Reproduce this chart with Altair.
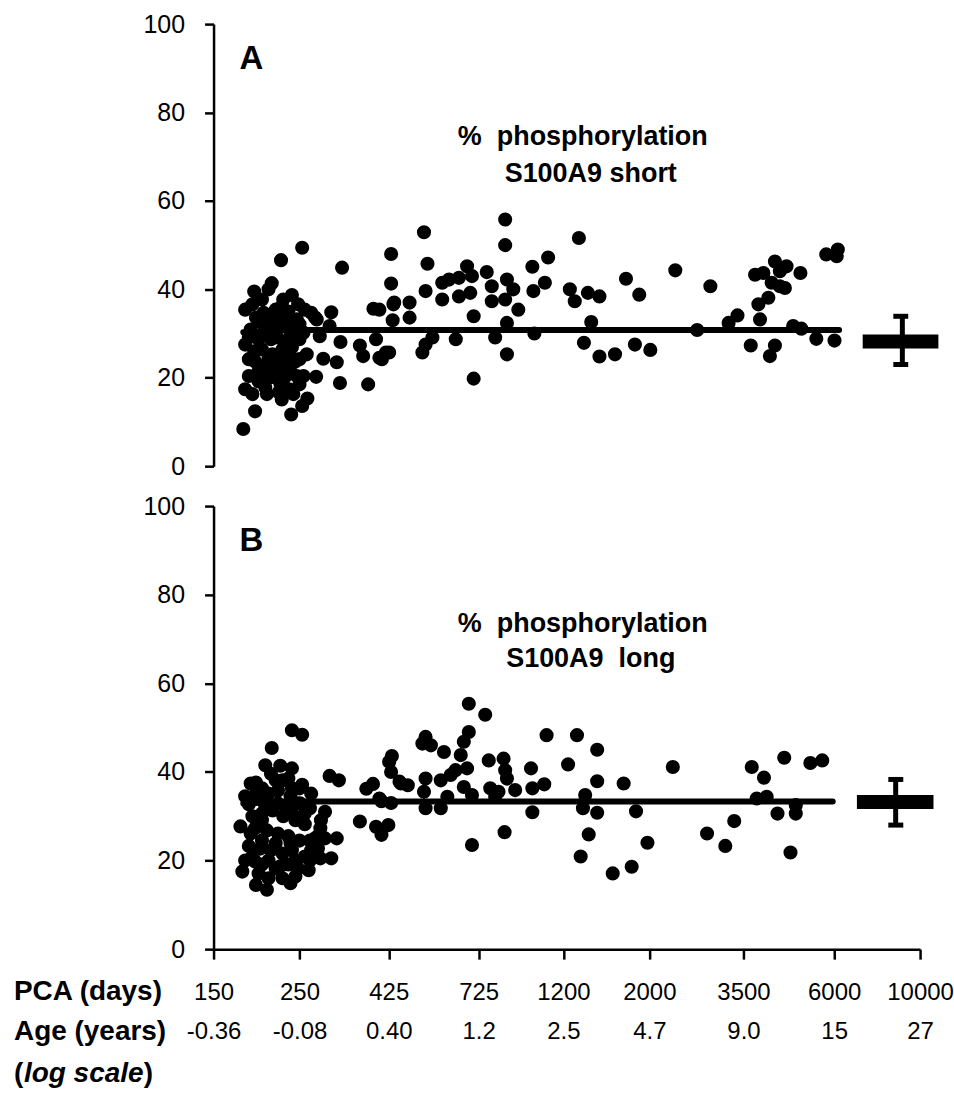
import altair as alt
import pandas as pd

# ---------------- data ----------------
# Panel A: % phosphorylation S100A9 short  (PCA days, %)
a_days = [254, 224, 322, 431, 431, 191, 212, 239, 302, 388, 437, 435, 274, 202, 358, 365, 288, 312,
          408, 426, 394, 319, 318, 376, 276, 261, 185, 206, 225, 262, 254, 192, 238, 179, 258, 256,
          277, 299, 282, 268, 246, 225, 200, 225, 246, 256,
          187, 196, 204, 217, 230, 237, 200, 213, 226, 239, 192, 204, 217, 230, 244, 196, 211, 223,
          237, 189, 200, 217, 234, 248, 208, 227, 193, 250, 250, 250, 181, 185, 221, 211, 235,
          181, 189, 198, 211, 223, 239, 185, 200, 219, 232, 191, 208, 223, 237, 196, 229, 204, 241,
          181, 250,
          849, 849, 524, 535, 1316, 1096, 998, 529, 584, 608, 645, 677, 697, 584, 645, 690, 761, 784,
          858, 891, 784, 849, 918, 858, 704, 402, 439, 481, 481, 1004, 1075, 1247, 1284, 1388, 1487,
          1741, 1884, 1416, 1010, 800, 633, 551, 529, 519, 418, 402, 858, 704, 1356, 1487, 1631, 1836,
          2012, 2334, 2875, 2658, 3204, 3378, 3862, 3825, 4058, 4138, 4346, 4477, 3750, 3940, 4220,
          4521, 4346, 4910, 4703, 4939, 3655, 4220, 4096, 5397, 6013, 5725, 6133, 6093]
a_pct = [49.4, 46.6, 44.9, 48.0, 41.3, 39.5, 41.4, 38.7, 34.8, 35.6, 36.6, 33.0, 33.7, 34.7, 27.3, 24.9, 24.3, 23.5,
         24.2, 25.7, 28.7, 28.1, 18.8, 18.5, 20.2, 25.3, 20.4, 16.3, 15.1, 15.3, 13.6, 12.4, 11.7, 8.4, 35.4, 30.2,
         33.2, 31.7, 29.4, 34.7, 33.2, 36.2, 19.6, 18.1, 20.4, 20.4,
         30.9, 28.7, 30.9, 32.1, 32.7, 29.8, 26.4, 25.3, 26.4, 26.9, 23.7, 22.3, 21.9, 23.0, 23.7, 19.2, 20.1, 18.7,
         21.4, 16.3, 37.7, 35.4, 35.0, 36.6, 40.0, 37.7, 33.6, 28.7, 24.2, 18.5, 27.5, 24.2, 16.7, 28.7, 17.4,
         35.4, 36.6, 32.7, 33.6, 34.3, 32.1, 29.1, 29.8, 29.1, 28.2, 26.0, 24.2, 23.7, 24.6, 21.4, 20.1, 17.8, 16.3,
         17.4, 32.1,
         55.8, 50.0, 52.9, 45.8, 51.6, 47.2, 45.1, 39.6, 41.5, 42.2, 42.6, 45.2, 43.0, 37.7, 38.4, 39.2, 43.9, 40.7,
         42.2, 40.0, 37.3, 37.7, 35.4, 32.4, 33.9, 35.4, 37.0, 37.0, 33.6, 39.6, 41.5, 40.0, 37.3, 39.2, 38.4,
         42.4, 38.8, 32.6, 30.0, 29.1, 28.7, 29.1, 27.5, 25.7, 25.7, 24.5, 25.3, 19.8, 27.9, 24.8, 25.3, 27.5,
         26.3, 44.3, 40.7, 30.8, 32.4, 34.1, 33.2, 36.6, 38.1, 41.5, 40.7, 40.3, 43.3, 43.7, 46.3,
         45.2, 44.1, 43.7, 31.7, 31.1, 27.3, 27.3, 24.9, 28.8, 28.4, 47.9, 49.0, 47.5]

# Panel B: % phosphorylation S100A9 long
b_days = [239, 254, 212, 204, 223, 239, 193, 254, 299, 316, 372, 387, 433, 426, 431, 407, 431, 291,
          358, 394, 424, 407, 312, 302, 185, 178, 193, 206, 192, 185, 192, 274, 283, 291, 519, 529,
          529, 529, 457, 476,
          196, 208, 220, 237, 251, 200, 213, 227, 244, 258, 192, 206, 220, 234, 250, 266, 198, 211,
          226, 239, 258, 279, 200, 217, 234, 248, 266, 226, 244, 208, 189, 230, 211, 226, 239, 266,
          283, 246,
          187, 200, 217, 234, 250, 268, 181, 204, 220, 239, 258, 187, 200, 217, 237, 279, 189, 208,
          223, 244, 264, 196, 237, 284, 268, 181, 200, 176,
          684, 754, 684, 664, 652, 677, 664, 697, 546, 590, 453, 402, 524, 579, 579, 614, 632, 602,
          770, 841, 849, 858, 777, 816, 901, 800, 697, 846, 990, 998, 1071, 998, 1086, 1234, 1301,
          1467, 1467, 1366, 1348, 1467, 1395, 1330, 1717, 1848, 1609, 1801, 1978, 2300, 2819, 3142,
          3313, 3677, 3954, 4460, 5209, 5590, 3787, 4018, 4285, 4777, 4777, 4629]
b_pct = [49.4, 48.4, 45.4, 41.5, 41.4, 40.8, 37.6, 37.1, 39.1, 38.1, 36.2, 37.3, 43.6, 42.3, 40.0, 33.4, 33.0, 31.0,
         28.8, 27.6, 28.0, 25.8, 25.0, 20.5, 23.3, 17.5, 14.5, 13.4, 19.8, 32.7, 34.8, 25.0, 20.5, 25.0, 46.4, 47.9,
         38.5, 31.8, 37.4, 37.0,
         34.0, 35.1, 35.8, 34.5, 32.9, 30.6, 31.3, 30.0, 29.1, 28.2, 27.3, 26.8, 26.1, 25.5, 24.5, 24.5, 22.7, 22.3,
         21.6, 22.3, 20.9, 22.7, 19.1, 18.2, 19.1, 18.2, 20.0, 16.0, 16.4, 16.0, 30.0, 32.2, 39.6, 38.1, 36.3, 31.8,
         27.3, 32.9,
         37.4, 36.3, 38.1, 38.5, 36.3, 35.1, 34.5, 32.2, 32.9, 30.6, 30.6, 26.1, 24.5, 23.9, 23.9, 25.5, 20.9, 20.0,
         18.7, 20.0, 17.8, 17.1, 14.9, 29.1, 22.3, 20.0, 29.1, 27.7,
         55.4, 52.9, 49.0, 46.8, 43.8, 40.8, 36.6, 34.8, 46.0, 44.5, 37.8, 34.0, 35.5, 31.8, 38.1, 39.3, 40.4, 34.4,
         42.6, 43.0, 40.4, 38.5, 36.3, 35.5, 35.9, 34.4, 23.5, 26.4, 40.8, 36.3, 37.2, 30.9, 48.3, 41.7, 48.3,
         45.0, 37.9, 34.8, 31.8, 30.8, 25.9, 20.9, 37.4, 31.1, 17.1, 18.6, 24.0, 41.1, 26.1, 23.3,
         28.9, 41.1, 38.7, 43.2, 42.0, 42.6, 34.0, 34.4, 30.6, 32.5, 30.6, 21.8]

# fitted lines
a_line_days = [179, 230, 6180]
a_line_pct = [30.3, 30.8, 30.8]
b_line_days = [179, 230, 5950]
b_line_pct = [32.9, 33.3, 33.3]

# mean +/- SD markers (adults): bar extent, whisker position, cap extent, mean, low, high
a_mean = dict(x1=7110, x2=11150, xw=9000, c1=8530, c2=9320, mean=28.2, lo=23.0, hi=33.9)
b_mean = dict(x1=6870, x2=10830, xw=8650, c1=8280, c2=9050, mean=33.2, lo=28.0, hi=38.3)

pca_ticks = [150, 250, 425, 725, 1200, 2000, 3500, 6000, 10000]
age_labels = ["-0.36", "-0.08", "0.40", "1.2", "2.5", "4.7", "9.0", "15", "27"]
y_ticks = [0, 20, 40, 60, 80, 100]

# ---------------- chart ----------------
W, H_A, H_B = 708, 443, 444
SANS = "Liberation Sans, Arial, sans-serif"

xscale = alt.Scale(type="log", domain=[150, 10000], nice=False)
yscale = alt.Scale(domain=[0, 100], nice=False)

label_expr = " : ".join(
    f"datum.value == {v} ? ['{v}', '{a}']" for v, a in zip(pca_ticks, age_labels)
) + " : ''"

x_axis_bottom = alt.Axis(
    values=pca_ticks, title=None, labelExpr=label_expr, labelLineHeight=40,
    labelFont=SANS, labelFontSize=24, labelColor="black", labelPadding=21,
    labelOverlap=False, labelFlush=False, tickSize=10, tickWidth=2.5, tickColor="black",
    domainColor="black", domainWidth=2.5, grid=False,
)
y_axis = alt.Axis(
    values=y_ticks, title=None, labelFont=SANS, labelFontSize=25, labelColor="black",
    labelPadding=20, tickSize=9, tickWidth=2.5, tickColor="black", domainColor="black",
    domainWidth=2.5, grid=False,
)


def panel(days, pct, ldays, lpct, m, letter, line1, line2, height, show_x, ty1, ty2):
    xaxis = x_axis_bottom if show_x else None
    pts = pd.DataFrame({"days": days, "pct": pct})
    line = pd.DataFrame({"days": ldays, "pct": lpct})
    mdf = pd.DataFrame([m])

    X = alt.X("days:Q", scale=xscale, axis=xaxis)
    Y = alt.Y("pct:Q", scale=yscale, axis=y_axis)

    points = alt.Chart(pts).mark_circle(size=200, color="black", opacity=1).encode(x=X, y=Y)
    fit = alt.Chart(line).mark_line(color="black", strokeWidth=6, strokeCap="round").encode(x=X, y=Y)
    bar = alt.Chart(mdf).mark_rule(color="black", strokeWidth=14).encode(
        x=alt.X("x1:Q", scale=xscale, axis=xaxis), x2="x2:Q",
        y=alt.Y("mean:Q", scale=yscale, axis=y_axis))
    whisk = alt.Chart(mdf).mark_rule(color="black", strokeWidth=5).encode(
        x=alt.X("xw:Q", scale=xscale, axis=xaxis),
        y=alt.Y("lo:Q", scale=yscale, axis=y_axis), y2="hi:Q")
    cap_hi = alt.Chart(mdf).mark_rule(color="black", strokeWidth=5).encode(
        x=alt.X("c1:Q", scale=xscale, axis=xaxis), x2="c2:Q",
        y=alt.Y("hi:Q", scale=yscale, axis=y_axis))
    cap_lo = alt.Chart(mdf).mark_rule(color="black", strokeWidth=5).encode(
        x=alt.X("c1:Q", scale=xscale, axis=xaxis), x2="c2:Q",
        y=alt.Y("lo:Q", scale=yscale, axis=y_axis))

    base_txt = alt.Chart(pd.DataFrame({"t": [0]}))
    let = base_txt.mark_text(text=letter, font=SANS, fontSize=33, fontWeight="bold",
                             align="left", baseline="alphabetic", color="black").encode(
        x=alt.value(26), y=alt.value(45))
    t1 = base_txt.mark_text(text=line1, font=SANS, fontSize=27, fontWeight="bold",
                            align="center", baseline="alphabetic", color="black").encode(
        x=alt.value(370), y=alt.value(ty1))
    t2 = base_txt.mark_text(text=line2, font=SANS, fontSize=27, fontWeight="bold",
                            align="center", baseline="alphabetic", color="black").encode(
        x=alt.value(378), y=alt.value(ty2))

    layers = [points, fit, bar, whisk, cap_hi, cap_lo, let, t1, t2]
    if show_x:
        hdr = dict(font=SANS, fontSize=28, fontWeight="bold", align="left",
                   baseline="middle", color="black")
        r1 = base_txt.mark_text(text="PCA (days)", **hdr).encode(x=alt.value(-200), y=alt.value(487))
        r2 = base_txt.mark_text(text="Age (years)", **hdr).encode(x=alt.value(-200), y=alt.value(527))
        r3a = base_txt.mark_text(text="(", **hdr).encode(x=alt.value(-200), y=alt.value(569))
        r3b = base_txt.mark_text(text="log scale", fontStyle="italic", **hdr).encode(
            x=alt.value(-190), y=alt.value(569))
        r3c = base_txt.mark_text(text=")", **hdr).encode(x=alt.value(-70), y=alt.value(569))
        layers += [r1, r2, r3a, r3b, r3c]
    return alt.layer(*layers).properties(width=W, height=height)


top = panel(a_days, a_pct, a_line_days, a_line_pct, a_mean, "A",
            "%\u00a0 phosphorylation", "S100A9 short", H_A, False, 121, 158)
bottom = panel(b_days, b_pct, b_line_days, b_line_pct, b_mean, "B",
               "%\u00a0 phosphorylation", "S100A9\u00a0 long", H_B, True, 126, 161)

chart = alt.vconcat(top, bottom, spacing=15).properties(
    padding={"left": 14, "top": 11, "right": 0, "bottom": 0},
    background="white",
).configure_view(stroke=None)

chart.save("out.html", embed_options={"renderer": "svg", "actions": False})
